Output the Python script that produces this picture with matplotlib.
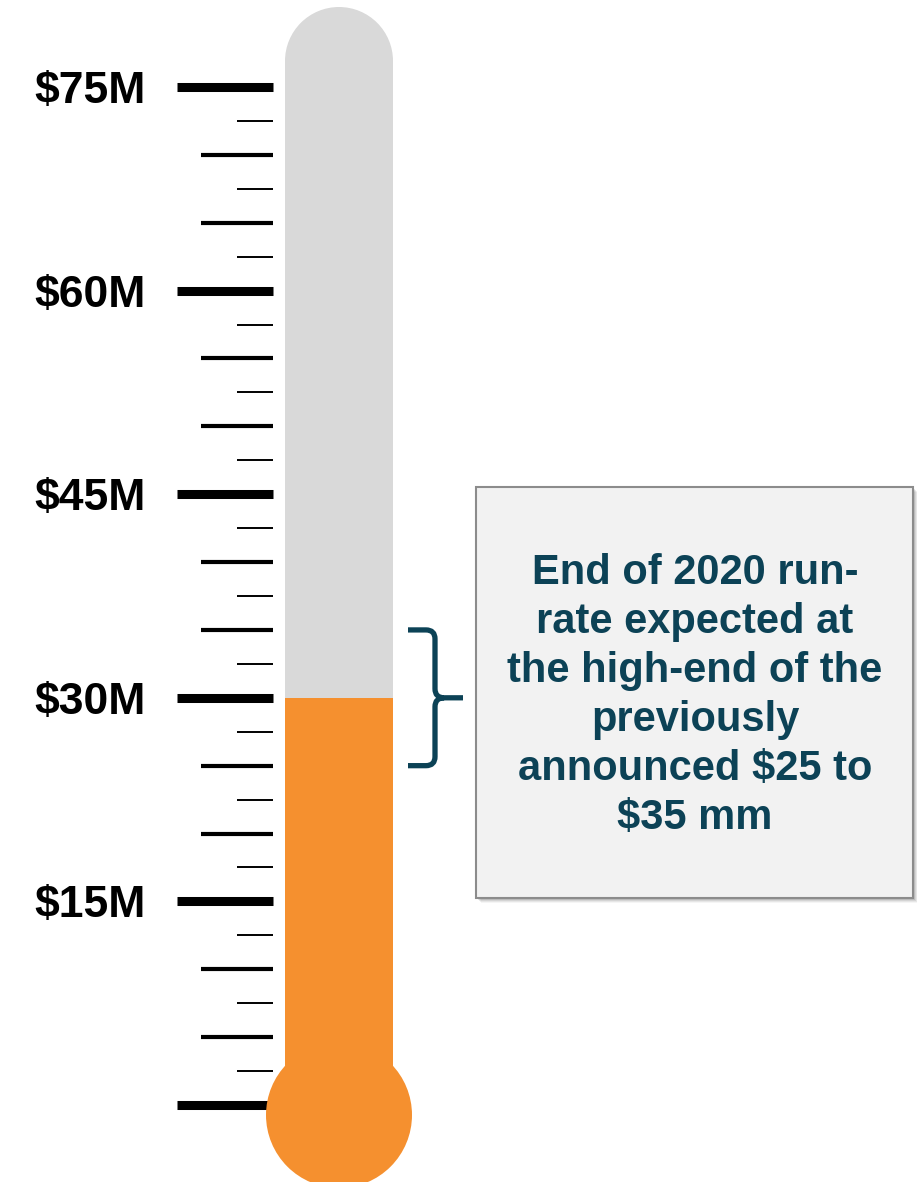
import matplotlib.pyplot as plt
from matplotlib.patches import Rectangle, Ellipse, PathPatch
from matplotlib.path import Path

# thermometer scale, in $M
major_ticks = [0, 15, 30, 45, 60, 75]
major_labels = ["", "$15M", "$30M", "$45M", "$60M", "$75M"]
mid_ticks = [5, 10, 20, 25, 35, 40, 50, 55, 65, 70]
minor_ticks = [2.5, 7.5, 12.5, 17.5, 22.5, 27.5, 32.5, 37.5, 42.5, 47.5,
               52.5, 57.5, 62.5, 67.5, 72.5]
run_rate = 30          # filled level
range_lo, range_hi = 25, 35
note = ("End of 2020 run-\nrate expected at\nthe high-end of the\n"
        "previously\nannounced $25 to\n$35 mm")

ORANGE = "#F5902F"
GREY = "#D9D9D9"
TEAL = "#0C4256"

W, H = 917, 1182
fig = plt.figure(figsize=(W / 100, H / 100), dpi=100)
ax = fig.add_axes([0, 0, 1, 1])

# y axis in $M, x axis in pixels
px_per_m = (1105 - 87) / 75.0
ax.set_xlim(0, W)
ax.set_ylim(-(H - 1105) / px_per_m, 1105 / px_per_m)
ax.axis("off")

def px(n):
    # vertical pixel distance -> $M
    return n / px_per_m

tube_x0, tube_x1 = 285, 393
tube_w = tube_x1 - tube_x0
tube_cx = (tube_x0 + tube_x1) / 2
cap_r = tube_w / 2
top_val = 75 + px(87 - 61)

# empty tube with round cap
ax.add_patch(Rectangle((tube_x0, 0), tube_w, top_val, fc=GREY, ec="none", zorder=1))
ax.add_patch(Ellipse((tube_cx, top_val), tube_w, 2 * px(cap_r), fc=GREY, ec="none", zorder=1))

# filled part and bulb (bulb sits over the zero tick)
ax.add_patch(Rectangle((tube_x0, 0), tube_w, run_rate, fc=ORANGE, ec="none", zorder=2))
bulb_r = 73
ax.add_patch(Ellipse((tube_cx, -px(10)), 2 * bulb_r, 2 * px(bulb_r), fc=ORANGE, ec="none", zorder=4))

# ticks
ax.hlines(major_ticks, 177, 273, color="black", lw=6.5, capstyle="butt", zorder=3)
ax.hlines(mid_ticks, 201, 273, color="black", lw=3.0, capstyle="butt", zorder=3)
ax.hlines(minor_ticks, 237, 273, color="black", lw=1.4, capstyle="butt", zorder=3)
for v, lab in zip(major_ticks, major_labels):
    if lab:
        ax.text(146, v - px(16), lab, ha="right", va="baseline", fontsize=32,
                fontweight="bold", family="Liberation Sans", color="black")

# curly bracket over the guidance range
x0, xv, xt = 408, 435, 463
r = 9
mid = (range_lo + range_hi) / 2
verts = [(x0, range_hi), (xv - r, range_hi),
         (xv, range_hi), (xv, range_hi - px(r)),
         (xv, mid + px(r)),
         (xv, mid), (xv + r, mid),
         (xt, mid),
         (xv + r, mid),
         (xv, mid), (xv, mid - px(r)),
         (xv, range_lo + px(r)),
         (xv, range_lo), (xv - r, range_lo),
         (x0, range_lo)]
codes = [Path.MOVETO, Path.LINETO,
         Path.CURVE3, Path.CURVE3,
         Path.LINETO,
         Path.CURVE3, Path.CURVE3,
         Path.LINETO,
         Path.MOVETO,
         Path.CURVE3, Path.CURVE3,
         Path.LINETO,
         Path.CURVE3, Path.CURVE3,
         Path.LINETO]
ax.add_patch(PathPatch(Path(verts, codes), fc="none", ec=TEAL, lw=3.8,
                       capstyle="butt", joinstyle="round", zorder=3))

# note box with a soft drop shadow
bx0, bx1, by0, by1 = 476 / W, 913 / W, 1 - 898 / H, 1 - 487 / H
for i, a in enumerate([0.10, 0.08, 0.06, 0.04]):
    off = (i + 2) / H
    fig.patches.append(Rectangle((bx0 + off * H / W, by0 - off), bx1 - bx0, by1 - by0,
                                 transform=fig.transFigure, fc="black", ec="none",
                                 alpha=a, zorder=0))
fig.patches.append(Rectangle((bx0, by0), bx1 - bx0, by1 - by0, transform=fig.transFigure,
                             fc="#F2F2F2", ec="#8C8C8C", lw=1.5, zorder=1))
fig.text(695 / W, 1 - 695.5 / H, note, ha="center", va="center", fontsize=30,
         fontweight="bold", family="Liberation Sans", color=TEAL,
         linespacing=1.29, zorder=5)

fig.savefig("out.png", dpi=100)
